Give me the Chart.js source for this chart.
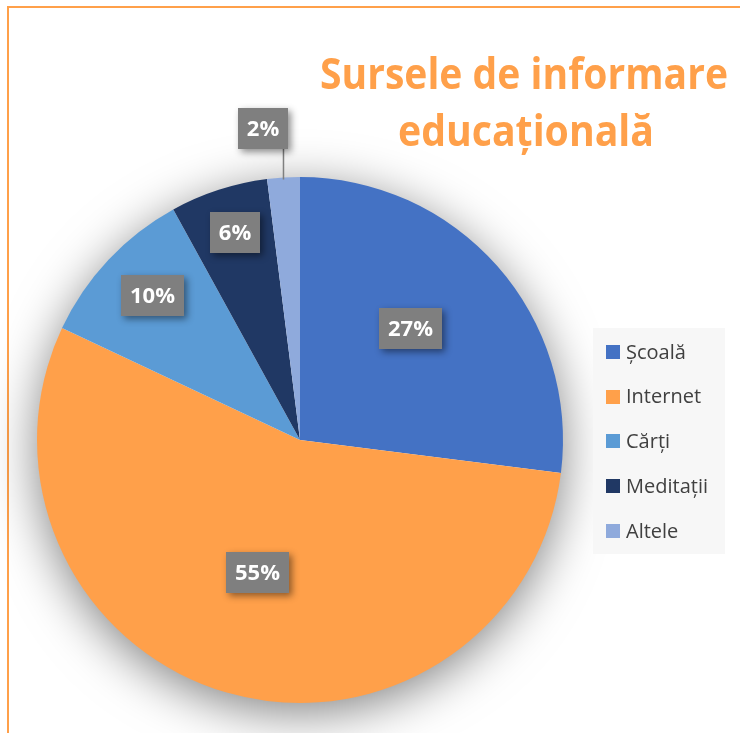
<!DOCTYPE html>
<html><head><meta charset="utf-8">
<script src="https://cdn.jsdelivr.net/npm/chart.js@4"></script>
<style>html,body{margin:0;padding:0;background:#fff}#wrap{width:740px;height:733px;position:relative}</style>
</head><body><div id="wrap"><canvas id="c" width="740" height="733"></canvas></div>
<script>
const categories = ['Școală', 'Internet', 'Cărți', 'Meditații', 'Altele'];
const values = [27, 55, 10, 6, 2];
const percentLabels = ['27%', '55%', '10%', '6%', '2%'];
const colors = ['#4472C4', '#FFA04A', '#5B9BD5', '#203864', '#8FAADC'];
const titleLines = ['Sursele de informare', 'educațională'];
const labelRadius = [0.597, 0.535, 0.786, 0.826, 1.19];
const labelShiftX = [-7, -3, 3, 2.5, -17];
const labelShiftY = [-7.5, -2.5, -3, -1, 1];

const FONT = '"Open Sans", "Noto Sans", sans-serif';

const framePlugin = {
  id: 'frame',
  beforeDraw(chart) {
    const ctx = chart.ctx;
    ctx.save();
    ctx.fillStyle = '#fff';
    ctx.fillRect(0, 0, chart.width, chart.height);
    ctx.strokeStyle = '#FFA04A';
    ctx.lineWidth = 2;
    ctx.beginPath();
    ctx.moveTo(chart.width + 5, 7);
    ctx.lineTo(8, 7);
    ctx.lineTo(8, chart.height + 5);
    ctx.stroke();
    ctx.restore();
  }
};

const shadowPlugin = {
  id: 'pieShadow',
  beforeDatasetsDraw(chart) {
    const arc = chart.getDatasetMeta(0).data[0];
    if (!arc) return;
    const ctx = chart.ctx;
    ctx.save();
    ctx.shadowColor = 'rgba(0,0,0,0.5)';
    ctx.shadowBlur = 50;
    ctx.shadowOffsetY = 10;
    ctx.fillStyle = '#ffffff';
    ctx.beginPath();
    ctx.arc(arc.x, arc.y, arc.outerRadius - 1, 0, Math.PI * 2);
    ctx.fill();
    ctx.restore();
  }
};

const labelPlugin = {
  id: 'pctLabels',
  afterDatasetsDraw(chart) {
    const ctx = chart.ctx;
    const meta = chart.getDatasetMeta(0);
    ctx.save();
    ctx.font = 'bold 22px ' + FONT;
    meta.data.forEach((arc, i) => {
      const mid = (arc.startAngle + arc.endAngle) / 2;
      const r = arc.outerRadius * labelRadius[i];
      const cx = arc.x + Math.cos(mid) * r + labelShiftX[i];
      const cy = arc.y + Math.sin(mid) * r + labelShiftY[i];
      const txt = percentLabels[i];
      const tw = ctx.measureText(txt).width;
      const w = Math.round(tw + 18), h = 41;
      const bx = Math.round(cx - w / 2), by = Math.round(cy - h / 2);
      if (labelRadius[i] > 1) {
        const ex = arc.x + Math.cos(mid) * arc.outerRadius;
        const ey = arc.y + Math.sin(mid) * arc.outerRadius;
        ctx.strokeStyle = '#7F7F7F';
        ctx.lineWidth = 1.5;
        ctx.beginPath();
        ctx.moveTo(ex, ey + 2);
        ctx.lineTo(ex, by + h);
        ctx.stroke();
      }
      ctx.save();
      ctx.shadowColor = 'rgba(0,0,0,0.45)';
      ctx.shadowBlur = 7;
      ctx.shadowOffsetX = 3;
      ctx.shadowOffsetY = 3;
      ctx.fillStyle = '#7F7F7F';
      ctx.fillRect(bx, by, w, h);
      ctx.restore();
      ctx.fillStyle = '#FFFFFF';
      ctx.textAlign = 'center';
      ctx.textBaseline = 'middle';
      ctx.fillText(txt, bx + w / 2, by + h / 2 + 1);
    });
    ctx.restore();
  }
};

const legendTitlePlugin = {
  id: 'legendTitle',
  afterDraw(chart) {
    const ctx = chart.ctx;
    ctx.save();
    ctx.fillStyle = '#FFA04A';
    ctx.font = 'bold 43px ' + FONT;
    ctx.textBaseline = 'alphabetic';
    ctx.textAlign = 'left';
    const tl = [
      { x: 320, y: 89, w: 408 },
      { x: 398, y: 146, w: 256 }
    ];
    titleLines.forEach((t, i) => {
      const m = ctx.measureText(t).width;
      ctx.save();
      ctx.translate(tl[i].x, tl[i].y);
      ctx.scale(tl[i].w / m, 1);
      ctx.fillText(t, 0, 0);
      ctx.restore();
    });
    ctx.fillStyle = '#F7F7F7';
    ctx.fillRect(593, 328, 132, 226);
    ctx.font = '20px ' + FONT;
    ctx.textBaseline = 'middle';
    categories.forEach((c, i) => {
      const y = 352 + i * 44.7;
      ctx.fillStyle = colors[i];
      ctx.fillRect(606, Math.round(y - 7), 14, 14);
      ctx.fillStyle = '#404040';
      ctx.fillText(c, 626, y + 1);
    });
    ctx.restore();
  }
};

new Chart(document.getElementById('c'), {
  type: 'pie',
  data: {
    labels: categories,
    datasets: [{
      data: values,
      backgroundColor: colors,
      borderWidth: 0
    }]
  },
  options: {
    responsive: false,
    devicePixelRatio: 1,
    animation: false,
    layout: { padding: { left: 37, top: 177, right: 177, bottom: 30 } },
    plugins: {
      legend: { display: false },
      tooltip: { enabled: false },
      title: { display: false }
    }
  },
  plugins: [framePlugin, shadowPlugin, labelPlugin, legendTitlePlugin]
});
</script>
</body></html>
